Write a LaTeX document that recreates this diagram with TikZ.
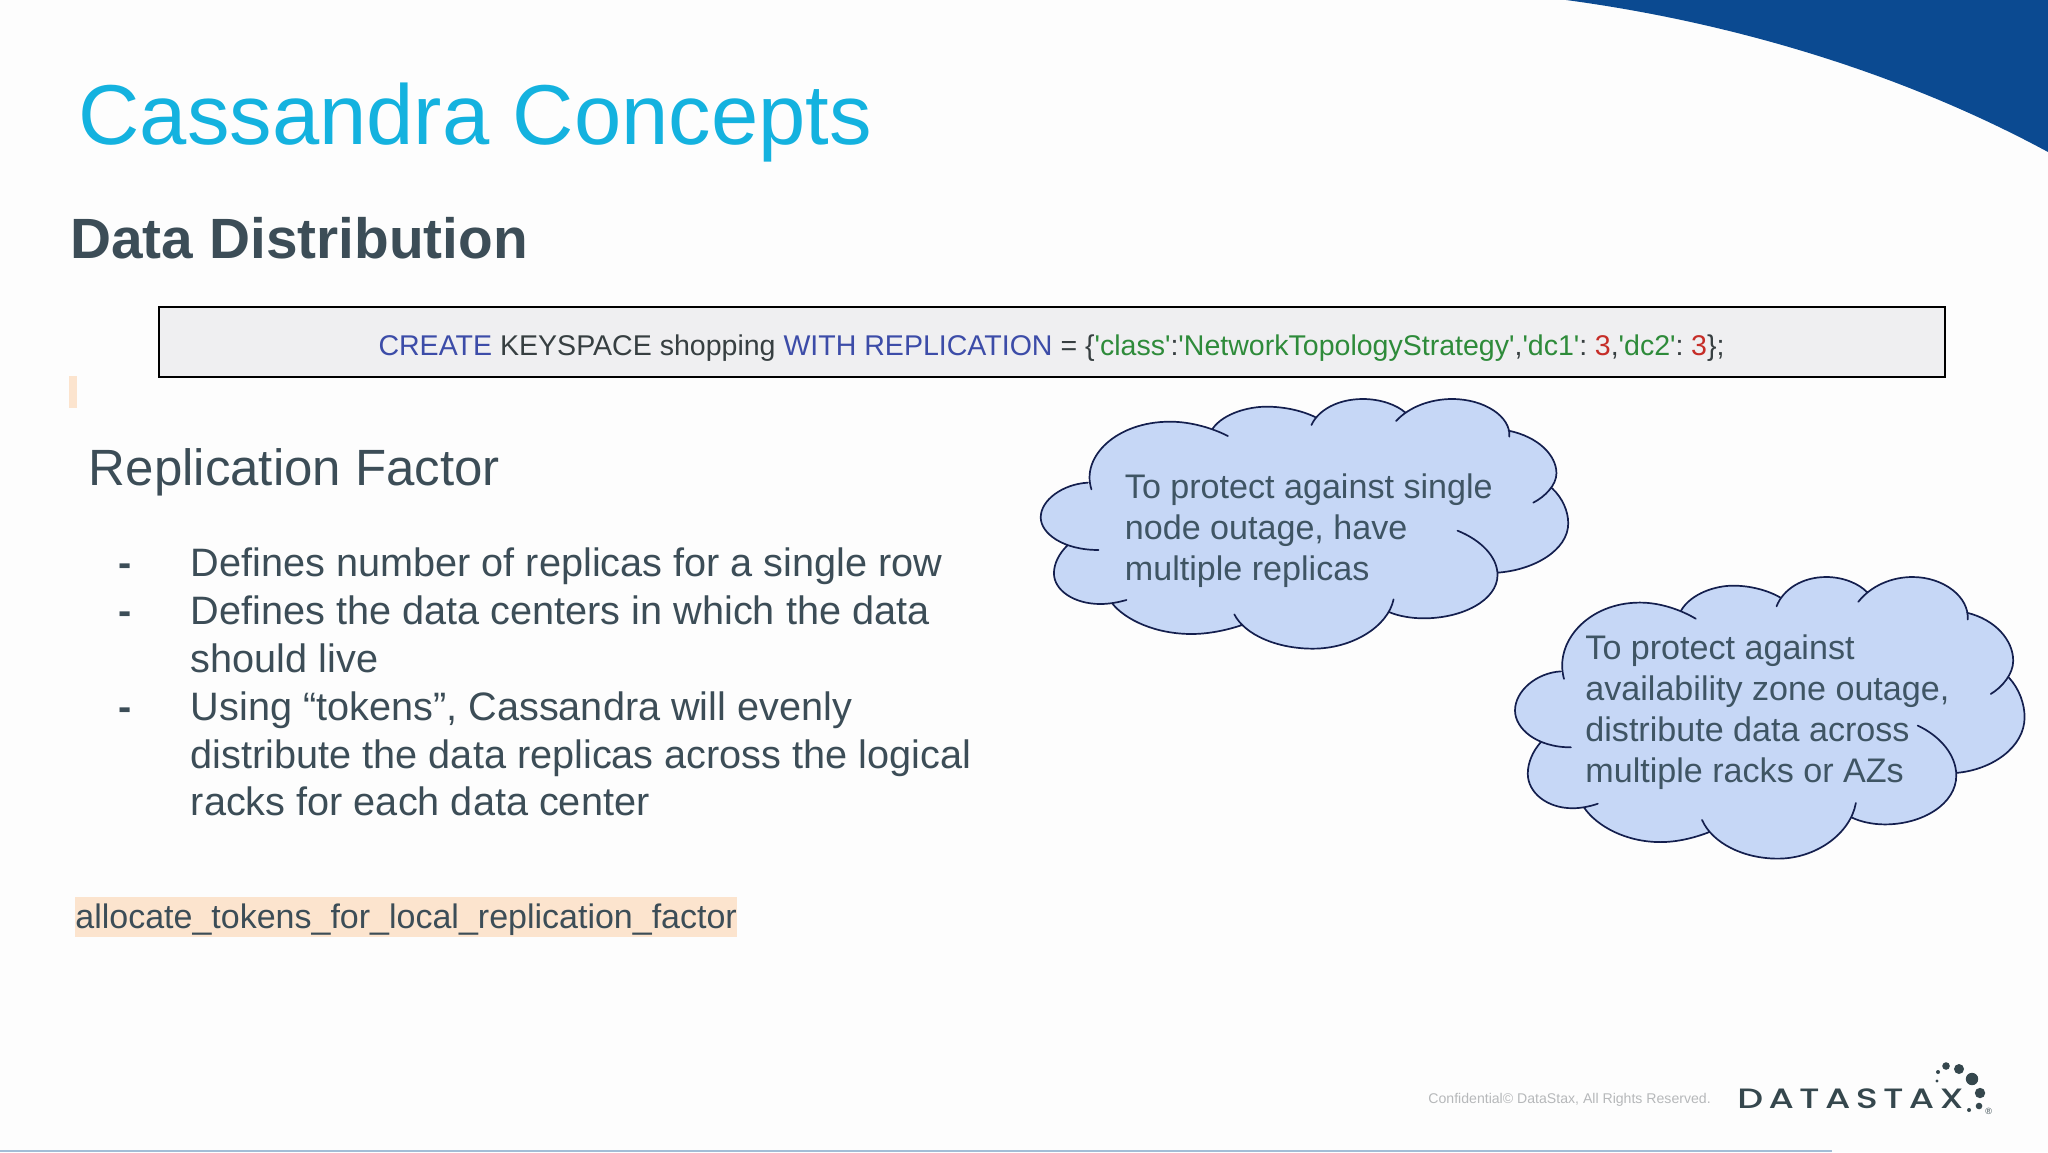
\documentclass[tikz,border=0pt]{standalone}
\usepackage{fontspec}
\newfontfamily\arialf{Liberation Sans}
\newfontfamily\logof[LetterSpace=19,FakeStretch=1.3,BoldFont={Poppins Medium}]{Poppins}
\definecolor{bg}{HTML}{FDFDFD}
\definecolor{swoosh}{HTML}{0B4A91}
\definecolor{titleblue}{HTML}{14B2DF}
\definecolor{slate}{HTML}{3C4D57}
\definecolor{cloudtext}{HTML}{3F5564}
\definecolor{cloudfill}{HTML}{C6D7F6}
\definecolor{cloudline}{HTML}{141F4E}
\definecolor{peach}{HTML}{FCE4CE}
\definecolor{kwblue}{HTML}{3C4CA8}
\definecolor{kwgreen}{HTML}{2E8B3A}
\definecolor{kwred}{HTML}{C62D28}
\definecolor{kwdark}{HTML}{373F41}
\definecolor{boxfill}{HTML}{EFEFF1}
\definecolor{footgray}{HTML}{B6B8BA}
\definecolor{logodark}{HTML}{35474D}
\definecolor{rulecol}{HTML}{A3BDD6}
\tikzset{
  linetext/.style={anchor=base west,inner sep=0pt,font=\arialf},
  bodytext/.style={linetext,text=slate,font=\arialf\fontsize{19.83}{24}\selectfont},
  cloudlabel/.style={linetext,text=cloudtext,font=\arialf\fontsize{17.05}{20.5}\selectfont},
  codebox/.style={draw=black,line width=1pt,fill=boxfill,minimum width=893pt,minimum height=35pt,inner sep=0pt},
  codetext/.style={anchor=base,inner sep=0pt,text=kwdark,font=\arialf\fontsize{14.27}{18}\selectfont},
  cloudedge/.style={draw=cloudline,line width=0.85pt,line cap=round}
}
\newcommand\cloudlobes[1]{
  #1 (200,328) .. controls (170,230) and (270,125) .. (420,125) .. controls (480,125) and (540,145) .. (582,168)
  #1 (540,145) .. controls (570,100) and (640,80) .. (690,80) .. controls (740,80) and (790,92) .. (828,112)
  #1 (816,135) .. controls (835,90) and (890,57) .. (960,57) .. controls (1010,57) and (1055,75) .. (1078,97)
  #1 (1053,123) .. controls (1090,80) and (1150,57) .. (1210,57) .. controls (1300,57) and (1375,110) .. (1370,170)
  #1 (1368,152) .. controls (1450,170) and (1502,225) .. (1502,280) .. controls (1502,315) and (1470,350) .. (1437,368)
  #1 (1490,325) .. controls (1520,355) and (1535,395) .. (1535,430) .. controls (1535,510) and (1440,570) .. (1337,578)
  #1 (1225,452) .. controls (1290,480) and (1337,530) .. (1337,585) .. controls (1337,660) and (1240,715) .. (1130,715) .. controls (1095,715) and (1060,708) .. (1035,697)
  #1 (1046,658) .. controls (1030,740) and (930,806) .. (820,806) .. controls (720,806) and (630,765) .. (600,703)
  #1 (622,735) .. controls (575,752) and (525,762) .. (480,762) .. controls (380,762) and (295,720) .. (258,670)
  #1 (298,660) .. controls (275,667) and (250,672) .. (225,672) .. controls (150,672) and (95,630) .. (95,580) .. controls (95,550) and (110,520) .. (132,497)
  #1 (220,510) .. controls (120,510) and (58,460) .. (58,412) .. controls (58,360) and (120,312) .. (190,308)
}
\newcommand\cloudfigure{
  \fill[cloudfill] (200,328) \cloudlobes{--} -- cycle;
  \path[cloudedge] \cloudlobes{};
}
\begin{document}
\begin{tikzpicture}[x=0.5pt,y=-0.5pt]
\useasboundingbox (0,0) rectangle (2048,1152);
\fill[bg] (0,0) rectangle (2048,1152);
% corner swoosh
\fill[swoosh] (1566,0) .. controls (1730,22) and (1900,72) .. (2048,152) -- (2048,0) -- cycle;
% bottom rule
\fill[rulecol] (0,1150) rectangle (1832,1152);
% title
\node[linetext,text=titleblue,font=\arialf\fontsize{42.5}{50}\selectfont] (title) at (78,144) {Cassandra Concepts};
\node[linetext,text=slate,font=\arialf\bfseries\fontsize{28.4}{34}\selectfont] (subtitle) at (70,258) {Data Distribution};
% code box
\node[codebox] (code) at (1051.5,342) {};
\node[codetext] (codeline) at (1051.5,355) {\textcolor{kwblue}{CREATE} KEYSPACE shopping \textcolor{kwblue}{WITH REPLICATION} = \{\textcolor{kwgreen}{'class'}:\textcolor{kwgreen}{'NetworkTopologyStrategy'},\textcolor{kwgreen}{'dc1'}:\kern-1.5pt{} \textcolor{kwred}{3},\textcolor{kwgreen}{'dc2'}:\kern-1.5pt{} \textcolor{kwred}{3}\};};
% small highlight mark
\fill[peach] (69,376) rectangle (77,408);
% left column
\node[linetext,text=slate,font=\arialf\fontsize{25.5}{30}\selectfont] (rf) at (88.5,485) {Replication Factor};
\node[bodytext,font=\arialf\bfseries\fontsize{19.83}{24}\selectfont] (b1) at (118,576) {-};
\node[bodytext] (l1) at (190.5,576) {Defines number of replicas for a single row};
\node[bodytext,font=\arialf\bfseries\fontsize{19.83}{24}\selectfont] (b2) at (118,624) {-};
\node[bodytext] (l2) at (190.5,624) {Defines the data centers in which the data};
\node[bodytext] (l3) at (190.5,672) {should live};
\node[bodytext,font=\arialf\bfseries\fontsize{19.83}{24}\selectfont] (b3) at (118,720) {-};
\node[bodytext] (l4) at (190.5,720) {Using “tokens”, Cassandra will evenly};
\node[bodytext] (l5) at (190.5,768) {distribute the data replicas across the logical};
\node[bodytext] (l6) at (190.5,815) {racks for each data center};
\fill[peach] (75,897) rectangle (737,937);
\node[linetext,text=slate,font=\arialf\fontsize{17}{20}\selectfont] (cfg) at (75,928.5) {allocate\_tokens\_for\_local\_replication\_factor};
% clouds
\begin{scope}[shift={(1020,380)},xscale=0.35714,yscale=0.33333]
\cloudfigure
\end{scope}
\begin{scope}[shift={(1515,577)},xscale=0.345,yscale=0.376,shift={(-58,-57)}]
\cloudfigure
\end{scope}
\node[cloudlabel] (c1a) at (1124.5,498) {To protect against single};
\node[cloudlabel] (c1b) at (1124.5,539) {node outage, have};
\node[cloudlabel] (c1c) at (1124.5,580) {multiple replicas};
\node[cloudlabel] (c2a) at (1585,659) {To protect against};
\node[cloudlabel] (c2b) at (1585,700) {availability zone outage,};
\node[cloudlabel] (c2c) at (1585,741) {distribute data across};
\node[cloudlabel] (c2d) at (1585,782) {multiple racks or AZs};
% footer
\node[linetext,text=footgray,font=\arialf\fontsize{7.05}{9}\selectfont] (foot) at (1428,1103) {Confidential© DataStax, All Rights Reserved.};
\node[linetext,text=logodark,font=\logof\bfseries\fontsize{14}{16}\selectfont] (logo) at (1737,1108) {DATASTAX};
\foreach \px/\py/\pr in {1946/1066/3.8,1959/1069/5,1972/1079/6.2,1980/1093/5.2,1979/1106/3.3,1969/1110/2,1938/1072/2,1937/1081/1.6}
  \fill[logodark] (\px,\py) circle[radius=\pr];
\node[linetext,text=logodark,font=\arialf\fontsize{4.5}{5}\selectfont] (reg) at (1985,1114) {®};
\end{tikzpicture}
\end{document}
